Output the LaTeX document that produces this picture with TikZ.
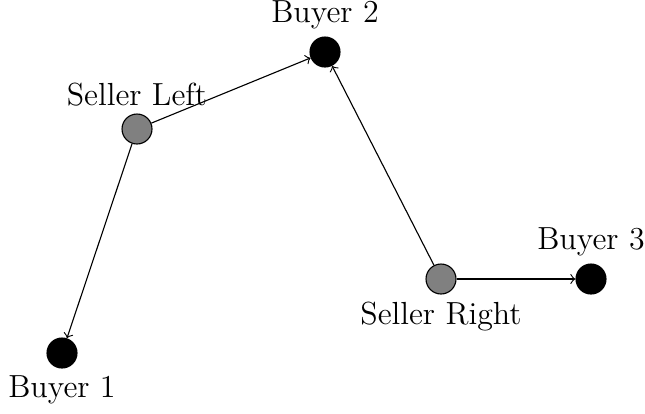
\documentclass[tikz,border=0pt]{standalone}
\usepackage{tikz}
\tikzset{seller/.style={circle,draw=black,fill=gray,minimum size=0.376cm,inner sep=0pt},
buyer/.style={circle,draw=black,fill=black,minimum size=0.376cm,inner sep=0pt},
every label/.style={font=\fontsize{11.4}{13.7}\selectfont,inner sep=2.4pt}}
\begin{document}
\begin{tikzpicture}[x=0.01254cm,y=-0.01254cm]
\useasboundingbox (0,0) rectangle (645,413);

\node[seller,label=above:{Seller Left}] at (137,129) (sl){};
\node[seller,label=below:{Seller Right}] at (441,279) (sr){};
\node[buyer,label=below:{Buyer 1}] at (62,353) (b1){};
\node[buyer,label=above:{Buyer 2}] at (325,52) (b2){};
\node[buyer,label=above:{Buyer 3}] at (591,279) (b3){};

\draw[->] (sl) -- (b1);
\draw[->] (sl) -- (b2);
\draw[->] (sr) -- (b2);
\draw[->] (sr) -- (b3);

\end{tikzpicture}
\end{document}
